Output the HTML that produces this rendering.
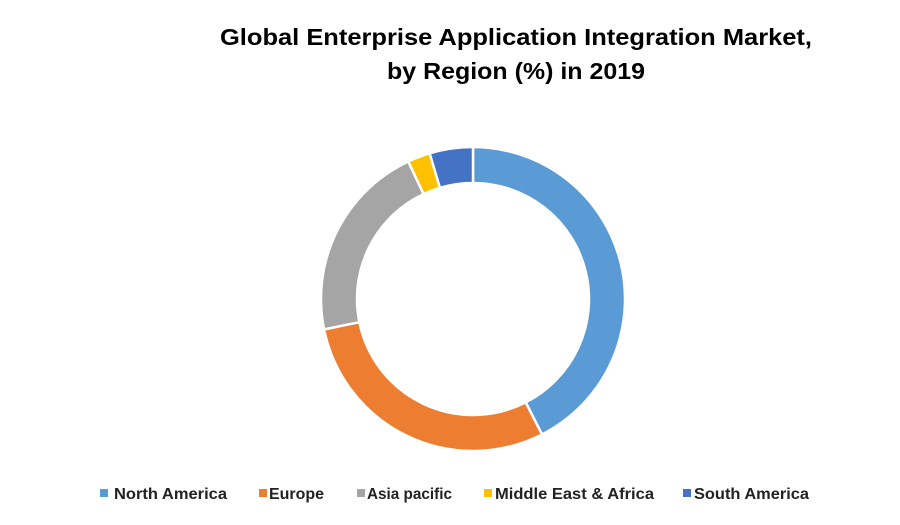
<!DOCTYPE html>
<html><head><meta charset="utf-8"><style>body{margin:0;background:#fff}svg{display:block}</style></head>
<body>
<svg width="900" height="525" font-family="Liberation Sans, sans-serif">
<text x="516" y="45" text-anchor="middle" font-size="23" font-weight="bold" textLength="592" lengthAdjust="spacingAndGlyphs">Global Enterprise Application Integration Market,</text>
<text x="516" y="79" text-anchor="middle" font-size="23" font-weight="bold" textLength="258" lengthAdjust="spacingAndGlyphs">by Region (%) in 2019</text>
<g id="slices"></g>
<g id="legend"></g>
</svg>
<script>
const categories=["North America","Europe","Asia pacific","Middle East & Africa","South America"];
const values=[42.5,29.3,21.2,2.4,4.6];
const colors=["#5b9bd5","#ed7d31","#a5a5a5","#ffc000","#4472c4"];
const cx=473,cy=299,R=152,r=116;
const g=document.getElementById('slices');
const tot=values.reduce((a,b)=>a+b,0);
let a0=0;
function pt(rad,a){return [cx+rad*Math.sin(a),cy-rad*Math.cos(a)];}
values.forEach((v,i)=>{
 const a1=a0+v/tot*2*Math.PI;
 const lg=(a1-a0)>Math.PI?1:0;
 const p1=pt(R,a0),p2=pt(R,a1),p3=pt(r,a1),p4=pt(r,a0);
 const p=document.createElementNS('http://www.w3.org/2000/svg','path');
 p.setAttribute('d',`M${p1}A${R},${R} 0 ${lg} 1 ${p2}L${p3}A${r},${r} 0 ${lg} 0 ${p4}Z`);
 p.setAttribute('fill',colors[i]);p.setAttribute('stroke','#fff');p.setAttribute('stroke-width','2.5');
 
 
 g.appendChild(p);a0=a1;
});
const lg=document.getElementById('legend');
const lx=[100,259,357,484,683],tx=[114,269,367,495,694],tw=[113,55,85,159,115];
categories.forEach((c,i)=>{
 const e=document.createElementNS('http://www.w3.org/2000/svg','g');
 
 
 e.innerHTML=`<rect x="${lx[i]}" y="489" width="8" height="8" fill="${colors[i]}"/><text x="${tx[i]}" y="499" font-size="16" font-weight="bold" fill="#222" textLength="${tw[i]}" lengthAdjust="spacingAndGlyphs"></text>`;
 e.querySelector('text').textContent=c;
 lg.appendChild(e);
});
</script>
</body></html>
